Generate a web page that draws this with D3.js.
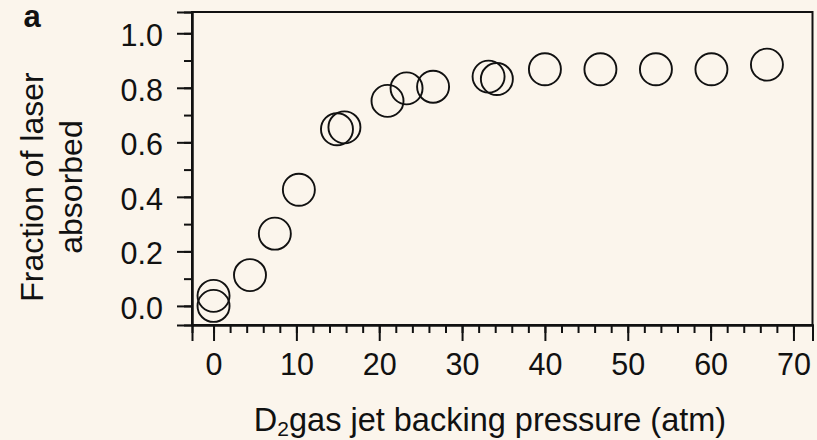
<!DOCTYPE html>
<html>
<head>
<meta charset="utf-8">
<script src="https://cdn.jsdelivr.net/npm/d3@7"></script>
<style>
  html, body { margin: 0; padding: 0; background: #fbf5ec; }
  svg { display: block; }
  text { font-family: "Liberation Sans", Arial, Helvetica, sans-serif; fill: #111; }
</style>
</head>
<body>
<svg id="chart" width="817" height="440"></svg>
<script>
// Backing pressure of the D2 gas jet (atm) and fraction of laser energy absorbed
const pressure = [0, 0, 4.4, 7.4, 10.3, 14.9, 15.8, 21.0, 23.3, 26.5, 33.2, 34.2, 40.0, 46.7, 53.4, 60.1, 66.8];
const absorbed = [0.0, 0.037, 0.113, 0.265, 0.426, 0.648, 0.655, 0.752, 0.798, 0.804, 0.841, 0.832, 0.868, 0.868, 0.868, 0.868, 0.885];

const xMajorTicks = [0, 10, 20, 30, 40, 50, 60, 70];
const xMinorTicks = d3.range(0, 71, 2);
const yMajorTicks = [0.0, 0.2, 0.4, 0.6, 0.8, 1.0];
const yMinorTicks = d3.range(0, 11).map(i => i / 10);

const svg = d3.select("#chart");

const x = d3.scaleLinear().domain([-2.6, 72.3]).range([192, 812.5]);
const y = d3.scaleLinear().domain([-0.07, 1.078]).range([325, 12]);

// plot frame
svg.append("rect")
  .attr("x", x.range()[0]).attr("y", y.range()[1])
  .attr("width", x.range()[1] - x.range()[0])
  .attr("height", y.range()[0] - y.range()[1])
  .attr("fill", "none").attr("stroke", "#111").attr("stroke-width", 2);

// x axis: minor then major ticks
const xMinor = svg.append("g").attr("transform", `translate(0,${y.range()[0]})`)
  .call(d3.axisBottom(x).tickValues(xMinorTicks).tickSize(8).tickFormat(""));
const xMajor = svg.append("g").attr("transform", `translate(0,${y.range()[0]})`)
  .call(d3.axisBottom(x).tickValues(xMajorTicks).tickSize(16).tickPadding(12.5).tickFormat(d3.format("d")));

// y axis
const yMinor = svg.append("g").attr("transform", `translate(${x.range()[0]},0)`)
  .call(d3.axisLeft(y).tickValues(yMinorTicks).tickSize(8).tickFormat(""));
const yMajor = svg.append("g").attr("transform", `translate(${x.range()[0]},0)`)
  .call(d3.axisLeft(y).tickValues(yMajorTicks).tickSize(15).tickPadding(14).tickFormat(d3.format(".1f")));

[xMinor, xMajor, yMinor, yMajor].forEach(g => {
  g.select(".domain").attr("stroke", "#111").attr("stroke-width", 2);
  g.selectAll(".tick line").attr("stroke", "#111").attr("stroke-width", 2);
  g.selectAll(".tick text").attr("font-size", 30.5).attr("font-family", null).attr("fill", "#111");
});
yMajor.selectAll(".tick text").attr("dy", "0.41em");

// data markers: open circles
svg.append("g")
  .selectAll("circle")
  .data(pressure.map((p, i) => [p, absorbed[i]]))
  .join("circle")
  .attr("cx", d => x(d[0]))
  .attr("cy", d => y(d[1]))
  .attr("r", 16)
  .attr("fill", "none")
  .attr("stroke", "#111")
  .attr("stroke-width", 1.9);

// axis titles
const xt = svg.append("text")
  .attr("x", 490).attr("y", 431)
  .attr("text-anchor", "middle")
  .attr("font-size", 32.5);
xt.append("tspan").text("D");
xt.append("tspan").attr("font-size", 21).attr("dy", 5).text("2");
xt.append("tspan").attr("dy", -5).text("gas jet backing pressure (atm)");

const yt = svg.append("text")
  .attr("transform", "translate(43,187) rotate(-90)")
  .attr("text-anchor", "middle")
  .attr("font-size", 32);
yt.append("tspan").attr("x", 0).attr("y", 0).text("Fraction of laser");
yt.append("tspan").attr("x", 0).attr("y", 38.5).text("absorbed");

// panel letter
svg.append("text")
  .attr("x", 23.5).attr("y", 27)
  .attr("font-size", 31).attr("font-weight", "bold")
  .text("a");
</script>
</body>
</html>
